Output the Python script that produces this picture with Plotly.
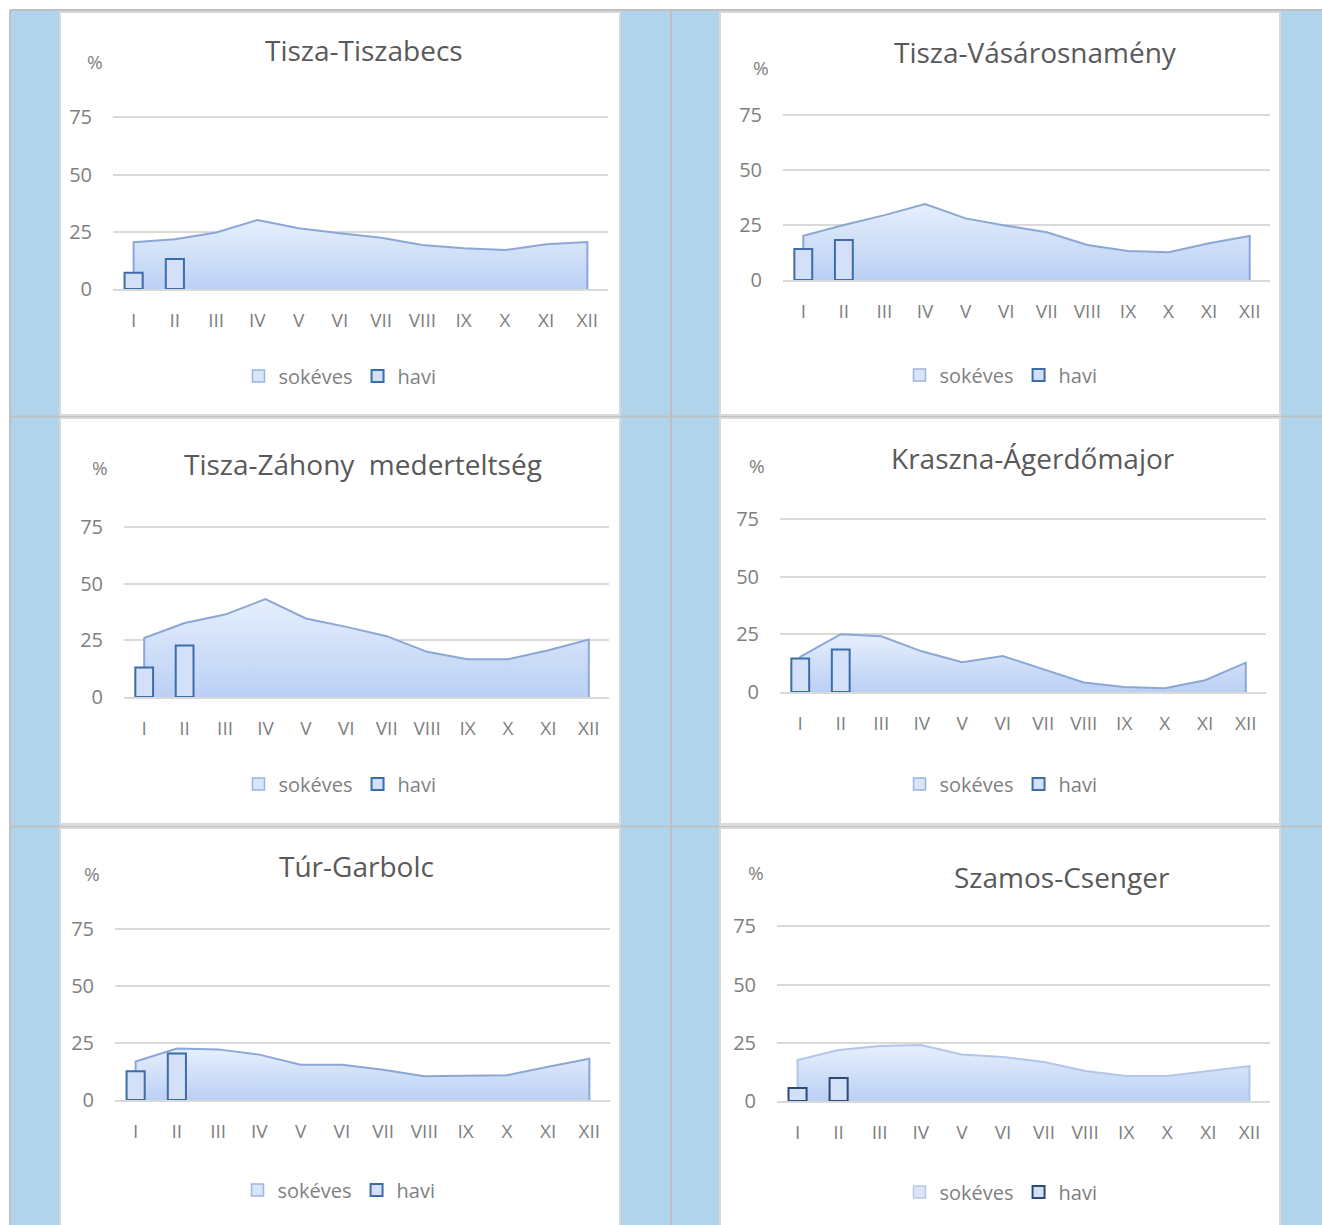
import plotly.graph_objects as go

W, H = 1322, 1225

months = ["I", "II", "III", "IV", "V", "VI", "VII", "VIII", "IX", "X", "XI", "XII"]
y_tickvals = [0, 25, 50, 75]
y_ticktext = ["0", "25", "50", "75"]
legend_names = ["sokéves", "havi"]

titles = [
    "Tisza-Tiszabecs",
    "Tisza-Vásárosnamény",
    "Tisza-Záhony  mederteltség",
    "Kraszna-Ágerdőmajor",
    "Túr-Garbolc",
    "Szamos-Csenger",
]

sokeves_tiszabecs = [20.4, 21.7, 24.7, 30.1, 26.5, 24.3, 22.4, 19.2, 17.8, 17.0, 19.5, 20.5]
havi_tiszabecs = [7.1, 13.1]

sokeves_vasarosnameny = [20.1, 25.0, 29.5, 34.5, 28.0, 24.7, 21.7, 15.9, 13.2, 12.6, 16.7, 20.0]
havi_vasarosnameny = [14.1, 18.2]

sokeves_zahony = [26.0, 32.6, 36.3, 43.1, 34.6, 30.9, 26.8, 19.9, 16.6, 16.6, 20.6, 25.3]
havi_zahony = [13.0, 22.7]

sokeves_agerdomajor = [15.2, 25.0, 24.1, 17.6, 12.9, 15.6, 9.7, 4.1, 2.2, 1.6, 5.1, 12.7]
havi_agerdomajor = [14.5, 18.4]

sokeves_garbolc = [16.9, 22.6, 22.2, 19.9, 15.5, 15.5, 13.3, 10.4, 10.8, 10.9, 14.6, 18.1]
havi_garbolc = [12.6, 20.4]

sokeves_csenger = [17.6, 21.9, 23.6, 24.0, 20.0, 18.9, 16.7, 12.9, 10.7, 10.7, 12.9, 15.0]
havi_csenger = [5.6, 9.9]

sokeves_all = [sokeves_tiszabecs, sokeves_vasarosnameny, sokeves_zahony,
               sokeves_agerdomajor, sokeves_garbolc, sokeves_csenger]
havi_all = [havi_tiszabecs, havi_vasarosnameny, havi_zahony,
            havi_agerdomajor, havi_garbolc, havi_csenger]

# layout boxes in pixels (plot left/right, y of 0 and of 100, title, % label, legend)
boxes = [
    dict(x0=113, x1=608, y0=289, y100=60, title=(364, 50), pct=(95, 62), leg=(340, 376)),
    dict(x0=783, x1=1270, y0=280, y100=60, title=(1035, 52), pct=(761, 68), leg=(1001, 375)),
    dict(x0=124, x1=609, y0=697, y100=470, title=(363, 464), pct=(100, 468), leg=(340, 784)),
    dict(x0=780, x1=1266, y0=692, y100=461, title=(1033, 458), pct=(757, 466), leg=(1001, 784)),
    dict(x0=115, x1=610, y0=1100, y100=872, title=(357, 866), pct=(92, 874), leg=(339, 1190)),
    dict(x0=777, x1=1270, y0=1101, y100=868, title=(1062, 877), pct=(756, 873), leg=(1001, 1192)),
]

line_colors = ["#8BA7D6"] * 5 + ["#B3C6E8"]
bar_line_colors = ["#3D6DA8"] * 5 + ["#2B4A78"]
sok_legend_line = ["#9CB4DF"] * 5 + ["#B8CAEA"]

FONT = "Open Sans"
TICK_COLOR = "#7F7F7F"
TITLE_COLOR = "#595959"
GRID = "#D9D9D9"


def px(x):
    return x / W


def py(y):
    return 1 - y / H


fig = go.Figure()
layout = dict(
    width=W, height=H, autosize=False,
    margin=dict(l=0, r=0, t=0, b=0, pad=0, autoexpand=False),
    paper_bgcolor="white",
    plot_bgcolor="rgba(0,0,0,0)",
    barmode="overlay",
    font=dict(family=FONT, color=TICK_COLOR),
)

shapes = []
# spreadsheet background: blue columns and cell borders
for (a, b) in [(10, 60), (620, 720), (1280, 1322)]:
    shapes.append(dict(type="rect", xref="paper", yref="paper", x0=px(a), x1=px(b),
                       y0=py(1225), y1=py(11), fillcolor="#B0D4EB", line=dict(width=0), layer="below"))
for xv in [10, 671]:
    shapes.append(dict(type="line", xref="paper", yref="paper", x0=px(xv), x1=px(xv),
                       y0=py(1225), y1=py(10), line=dict(color="#BFBFBF", width=2), layer="below"))
for yv in [10, 416.5, 826.5]:
    shapes.append(dict(type="line", xref="paper", yref="paper", x0=px(10), x1=1,
                       y0=py(yv), y1=py(yv), line=dict(color="#BFBFBF", width=2), layer="below"))
panels = [(60, 12, 620, 415), (720, 12, 1280, 415), (60, 418, 620, 824),
          (720, 418, 1280, 824), (60, 828, 620, 1232), (720, 828, 1280, 1232)]
for (a, t, b, bt) in panels:
    shapes.append(dict(type="rect", xref="paper", yref="paper", x0=px(a), x1=px(b),
                       y0=py(bt), y1=py(t), fillcolor="white",
                       line=dict(color="#D9D9D9", width=2), layer="below"))

annotations = []
n = len(boxes)

for i, (bx, title, sok, hav) in enumerate(zip(boxes, titles, sokeves_all, havi_all), start=1):
    xa = "x" if i == 1 else f"x{i}"
    ya = "y" if i == 1 else f"y{i}"
    yb = f"y{i + n}"          # overlaid axis so the bars are drawn above the area
    leg = "legend" if i == 1 else f"legend{i}"

    # area series, closed at the first and last category
    ax = [months[0]] + months + [months[-1]]
    ay = [0] + sok + [0]
    fig.add_trace(go.Scatter(
        x=ax, y=ay, mode="lines", fill="toself", name=legend_names[0],
        line=dict(color=line_colors[i - 1], width=2),
        fillgradient=dict(type="vertical", colorscale=[[0, "#BBD0F5"], [1, "#E6EFFC"]]),
        xaxis=xa, yaxis=ya, showlegend=False, hoverinfo="skip",
    ))
    # legend entry for the area series (square swatch as in the original)
    fig.add_trace(go.Bar(
        x=[None], y=[None], name=legend_names[0],
        marker=dict(color="#D9E5F9", line=dict(color=sok_legend_line[i - 1], width=1.5)),
        xaxis=xa, yaxis=yb, legend=leg,
    ))
    fig.add_trace(go.Bar(
        x=months[:len(hav)], y=hav, name=legend_names[1], width=0.44,
        marker=dict(color="#D3E0F7", line=dict(color=bar_line_colors[i - 1], width=2)),
        xaxis=xa, yaxis=yb, legend=leg,
    ))

    layout[f"xaxis{'' if i == 1 else i}"] = dict(
        domain=[px(bx["x0"]), px(bx["x1"])], anchor=ya, automargin=False,
        type="category", categoryorder="array", categoryarray=months,
        range=[-0.5, 11.5], showgrid=False, zeroline=False,
        showline=True, linecolor=GRID, linewidth=2, ticks="", ticklabelstandoff=13,
        tickfont=dict(size=19, color=TICK_COLOR, family=FONT), fixedrange=True,
    )
    layout[f"yaxis{'' if i == 1 else i}"] = dict(
        domain=[py(bx["y0"]), py(bx["y100"])], anchor=xa, automargin=False,
        range=[0, 100], tickvals=y_tickvals, ticktext=y_ticktext,
        showgrid=True, gridcolor=GRID, gridwidth=2, zeroline=False,
        showline=False, ticks="", ticklabelstandoff=20,
        tickfont=dict(size=20, color=TICK_COLOR, family=FONT), fixedrange=True,
    )
    layout[f"yaxis{i + n}"] = dict(
        overlaying=ya, anchor=xa, range=[0, 100], visible=False, automargin=False,
        showgrid=False, zeroline=False, fixedrange=True,
    )
    layout[leg] = dict(
        x=px(bx["leg"][0]), y=py(bx["leg"][1]), xref="paper", yref="paper",
        xanchor="center", yanchor="middle", orientation="h",
        bgcolor="rgba(0,0,0,0)", itemwidth=30,
        font=dict(size=20, color=TICK_COLOR, family=FONT),
    )
    annotations.append(dict(
        text=title, x=px(bx["title"][0]), y=py(bx["title"][1]), xref="paper", yref="paper",
        xanchor="center", yanchor="middle", showarrow=False,
        font=dict(size=28, color=TITLE_COLOR, family=FONT),
    ))
    annotations.append(dict(
        text="%", x=px(bx["pct"][0]), y=py(bx["pct"][1]), xref="paper", yref="paper",
        xanchor="center", yanchor="middle", showarrow=False,
        font=dict(size=19, color=TICK_COLOR, family=FONT),
    ))

layout["shapes"] = shapes
layout["annotations"] = annotations
fig.update_layout(**layout)

fig.write_html("out.html", config=dict(displayModeBar=False, responsive=False),
               post_script="document.body.style.margin='0';document.body.style.overflow='hidden';")
